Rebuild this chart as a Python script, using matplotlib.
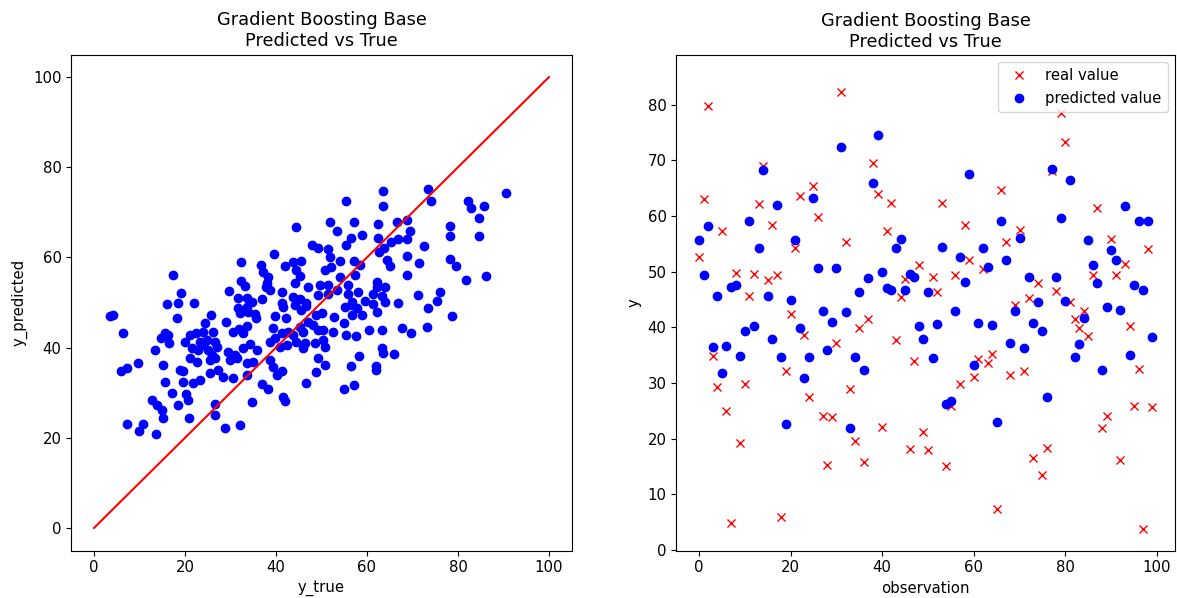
import matplotlib
matplotlib.use("Agg")
import matplotlib.pyplot as plt
import numpy as np

plt.rcParams['font.size'] = 10.7
plt.rcParams['axes.titlesize'] = 12.8

# ---- left panel: true vs predicted ----
scatter_pts = [
    (44.5,66.7),(39.6,60.7),(32.3,59.0),(36.6,58.3),(42.0,58.2),(43.7,59.0),(45.5,59.3),(44.5,57.2),
    (45.3,55.9),(17.4,56.1),(37.1,56.8),(38.3,55.7),(32.3,54.8),(33.2,53.7),(38.0,54.3),(37.7,53.4),
    (38.7,52.8),(44.2,54.3),(29.7,52.6),(41.3,52.4),(19.1,52.0),(31.7,50.9),(33.6,50.9),(34.7,50.2),
    (37.0,50.8),(43.8,51.3),(45.3,50.7),(16.0,49.6),(18.4,49.8),(22.0,50.0),(41.3,49.8),(46.7,49.8),
    (63.6,74.7),(73.3,75.1),(90.5,74.2),(55.4,72.5),(74.1,72.5),(63.6,71.4),(82.3,72.6),(82.8,70.9),
    (85.7,71.4),(84.7,68.7),(51.9,67.8),(57.1,67.8),(62.5,67.3),(66.7,67.9),(68.7,68.4),(53.3,65.9),
    (69.5,65.9),(78.2,67.0),(78.2,64.8),(84.7,64.7),(59.0,65.0),(56.4,64.4),(62.4,64.4),(68.9,64.1),
    (55.4,62.7),(65.3,63.5),(66.9,64.0),(63.7,62.0),(62.6,61.3),(72.6,62.5),(48.0,62.7),(49.3,62.0),
    (51.4,61.8),(51.9,60.0),(54.1,59.3),(57.2,59.3),(58.5,58.3),(64.5,59.4),(65.1,58.1),(68.9,60.3),
    (71.5,58.7),(78.2,59.6),(79.5,58.2),(50.8,57.2),(52.1,57.9),(57.4,56.1),(54.1,55.7),(68.9,56.1),
    (81.7,55.1),(86.1,55.9),(47.1,53.4),(49.7,53.9),(51.5,53.9),(55.8,53.9),(62.1,54.6),(62.1,53.4),
    (64.0,53.4),(49.3,51.7),(51.5,51.9),(53.3,52.8),(55.8,51.9),(58.1,52.4),(61.4,51.9),(63.2,51.4),
    (71.1,51.6),(76.0,52.4),(75.3,50.4),(56.6,50.2),(59.6,50.4),(64.0,50.2),(66.9,50.0),
    (4.2,47.2),(3.5,46.9),(18.2,46.5),(25.7,47.2),(29.0,45.6),(32.1,47.6),(33.8,48.0),(35.4,47.5),
    (35.6,46.5),(31.7,48.7),(33.6,49.1),(39.8,46.9),(41.6,49.1),(42.2,46.5),(44.2,49.4),(45.6,48.3),
    (24.4,45.4),(26.2,43.5),(6.3,43.2),(15.5,43.3),(16.3,42.8),(14.7,42.1),(16.5,41.0),(20.0,41.3),
    (21.1,42.8),(22.4,43.2),(24.0,43.5),(23.3,41.3),(24.8,41.7),(26.6,41.3),(30.6,43.5),(31.9,44.1),
    (33.6,44.8),(32.8,43.2),(39.4,44.3),(39.8,42.1),(41.3,43.2),(42.7,43.5),(43.8,42.8),(45.3,44.6),
    (13.4,39.5),(21.5,39.8),(22.9,39.5),(24.0,40.6),(25.1,39.5),(27.0,40.2),(25.9,38.4),(29.5,39.1),
    (31.0,38.4),(32.7,39.8),(34.3,40.9),(35.8,39.5),(38.7,41.3),(40.9,40.2),(42.4,40.6),(44.5,41.3),
    (46.0,39.8),(21.1,37.6),(22.6,36.9),(25.5,37.3),(26.6,37.6),(29.9,37.3),(31.4,37.6),(33.6,36.5),
    (35.0,36.9),(38.7,37.3),(39.4,35.8),(41.3,34.7),(40.2,33.9),(9.6,36.5),(7.2,35.4),(5.9,34.7),
    (15.2,36.1),(18.9,35.0),(19.6,34.7),(25.5,34.3),(27.3,35.0),(28.4,33.5),(30.6,33.2),(33.6,33.9),
    (19.6,32.4),(21.8,32.1),(23.3,32.8),(15.6,32.4),(36.9,31.9),(38.3,30.8),(17.1,29.9),(20.2,29.7),
    (20.7,28.4),(12.7,28.4),(13.8,27.3),(14.9,26.2),(18.5,27.3),(26.6,27.6),(26.6,25.1),(34.7,27.9),
    (41.6,29.1),(42.0,28.2),(15.2,24.3),(20.9,24.3),(7.2,23.1),(10.8,23.1),(9.9,21.4),(13.6,20.8),
    (28.8,22.1),(32.1,22.8),
    (46.7,49.2),(55.2,49.1),(56.6,49.4),(57.7,48.7),(61.4,49.7),(62.1,48.0),(56.6,47.2),(58.8,47.2),
    (73.3,48.7),(78.6,47.1),(48.9,47.2),(50.0,47.6),(52.8,46.7),(55.0,45.5),(47.1,45.7),(48.2,45.0),
    (49.3,43.9),(50.4,43.9),(52.6,43.5),(46.0,43.5),(55.4,42.9),(57.6,42.6),(60.4,43.9),(63.4,43.9),
    (67.6,44.3),(69.7,43.3),(73.1,44.6),(46.4,41.0),(48.6,41.0),(50.4,41.7),(50.8,40.2),(49.3,37.6),
    (50.8,36.1),(48.7,34.5),(46.6,32.1),(56.4,35.9),(58.2,38.1),(62.0,35.9),(62.0,35.0),(63.4,39.8),
    (63.6,38.7),(66.0,38.6),(55.0,30.8),(57.1,31.6),
]
y_true = [p[0] for p in scatter_pts]
y_pred = [p[1] for p in scatter_pts]

# ---- right panel: observation-wise ----
real_values = [
    52.6, 63.0, 79.8, 34.8, 29.2, 57.2, 25.0, 4.9, 49.7, 19.2,
    29.8, 45.7, 49.6, 62.1, 69.0, 48.4, 58.3, 49.4, 6.0, 32.2,
    42.4, 54.2, 63.5, 38.6, 27.5, 65.4, 59.8, 24.1, 15.3, 23.9,
    37.2, 82.3, 55.4, 28.9, 19.6, 39.8, 15.8, 41.4, 69.5, 63.9,
    22.1, 57.2, 62.3, 37.7, 45.4, 48.7, 18.2, 33.9, 51.1, 21.2,
    18.0, 49.0, 46.4, 62.3, 15.0, 25.8, 49.3, 29.8, 58.4, 52.0,
    31.0, 34.3, 50.5, 33.5, 35.2, 7.3, 64.7, 55.4, 31.4, 44.0,
    57.5, 32.2, 45.2, 16.5, 47.9, 13.4, 18.4, 68.0, 46.6, 78.4,
    73.2, 44.6, 41.5, 39.8, 43.0, 38.5, 49.3, 61.4, 21.9, 24.0,
    55.8, 49.4, 16.1, 51.4, 40.2, 25.8, 32.5, 3.8, 54.1, 25.6,
]
predicted_values = [
    55.7, 49.3, 58.1, 36.5, 45.7, 31.8, 36.7, 47.3, 47.6, 34.8,
    39.3, 59.1, 40.3, 54.3, 68.3, 45.7, 37.8, 62.0, 34.6, 22.7,
    44.9, 55.7, 39.8, 30.8, 34.6, 63.3, 50.6, 43.0, 36.0, 41.0,
    50.6, 72.3, 42.8, 21.9, 34.6, 46.4, 32.4, 48.8, 65.9, 74.6,
    49.9, 47.0, 46.7, 54.3, 55.8, 46.7, 49.6, 49.1, 40.3, 37.8,
    46.4, 34.5, 40.6, 54.5, 26.2, 26.8, 43.0, 52.6, 48.1, 67.5,
    33.3, 40.8, 54.3, 50.8, 40.4, 22.9, 59.1, 52.0, 37.1, 43.0,
    56.0, 36.2, 49.1, 40.8, 44.5, 39.4, 27.4, 68.5, 49.1, 59.6,
    44.8, 66.5, 34.6, 37.0, 41.6, 55.7, 51.2, 47.9, 32.4, 43.7,
    53.8, 52.1, 43.1, 61.8, 35.0, 47.5, 59.0, 46.7, 59.1, 38.3,
]
observation = list(range(len(real_values)))

W, H = 1177, 598
fig = plt.figure(figsize=(W / 100, H / 100), dpi=100)
ax1 = fig.add_axes([71.25 / W, 1 - 550.5 / H, 500.5 / W, 496 / H])
ax2 = fig.add_axes([676.3 / W, 1 - 550.5 / H, 498.8 / W, 495.5 / H])

ax1.scatter(y_true, y_pred, color='blue')
ax1.plot([0, 100], [0, 100], color='red')
ax1.set_xlim(-5, 105)
ax1.set_ylim(-5, 105)
ax1.set_xlabel('y_true')
ax1.set_ylabel('y_predicted')
ax1.set_title('Gradient Boosting Base\nPredicted vs True')

ax2.plot(observation, real_values, 'rx', label='real value')
ax2.plot(observation, predicted_values, 'bo', label='predicted value')
ax2.set_xlim(-4.95, 103.95)
ax2.set_ylim(-0.1, 88.9)
ax2.set_xticks([0, 20, 40, 60, 80, 100])
ax2.set_yticks([0, 10, 20, 30, 40, 50, 60, 70, 80])
ax2.set_xlabel('observation')
ax2.set_ylabel('y')
ax2.set_title('Gradient Boosting Base\nPredicted vs True')
ax2.legend(loc='upper right')

fig.savefig('out.png', dpi=100)
